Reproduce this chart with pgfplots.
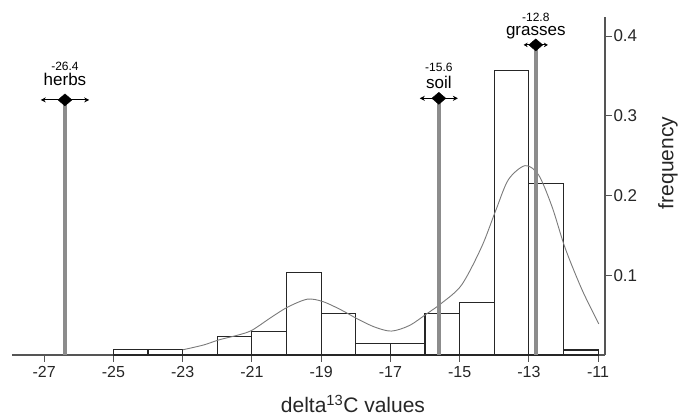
\documentclass[border=0pt]{standalone}
\usepackage{fontspec}
\setmainfont{Liberation Sans}
\usepackage{pgfplots}
\pgfplotsset{compat=1.18}
\usetikzlibrary{arrows.meta}
\definecolor{axisgray}{HTML}{555555}
\definecolor{refgray}{HTML}{8C8C8C}
\definecolor{curvegray}{HTML}{7A7A7A}

\pgfplotstableread{
x      f
-25    0.0072
-24    0.0072
-23    0
-22    0.023
-21    0.030
-20    0.104
-19    0.052
-18    0.0147
-17    0.0147
-16    0.052
-15    0.066
-14    0.357
-13    0.215
-12    0.0063
-11    0
}\histdata

\pgfplotstableread{
x       d
-23.0   0.0065
-22.4   0.0125
-21.95  0.019
-21.4   0.025
-21.0   0.031
-20.45  0.047
-19.97  0.060
-19.4   0.070
-18.95  0.067
-18.42  0.0565
-17.94  0.045
-17.45  0.035
-16.97  0.030
-16.45  0.037
-15.94  0.052
-15.52  0.065
-14.94  0.088
-14.36  0.136
-13.95  0.182
-13.59  0.220
-13.11  0.2375
-12.72  0.226
-12.33  0.186
-11.95  0.134
-11.46  0.0815
-10.98  0.039
}\densdata

\begin{document}
\begin{tikzpicture}
\begin{axis}[
  name=ax, scale only axis, width=593pt, height=338pt,
  xmin=-27.93, xmax=-10.8, ymin=0, ymax=0.424,
  axis x line*=bottom, axis y line*=right,
  axis line style={axisgray, line width=1.3pt, -},
  xtick={-27,-25,-23,-21,-19,-17,-15,-13,-11},
  xticklabels={-27,-25,-23,-21,-19,-17,-15,-13,-11},
  ytick={0.1,0.2,0.3,0.4}, yticklabels={0.1,0.2,0.3,0.4},
  tick align=outside, major tick length=7pt,
  tick style={axisgray, line width=1.1pt},
  xticklabel style={font=\fontsize{16}{16}\selectfont, text=black!85, yshift=-1pt},
  yticklabel style={font=\fontsize{17}{17}\selectfont, text=black!85, xshift=-2pt},
  clip=false,
]
  % histogram
  \addplot[ybar interval, draw=black!85, line width=1.1pt, fill=none] table[x=x, y=f] {\histdata};
  % density curve
  \addplot[curvegray, line width=0.9pt, smooth, tension=0.5] table[x=x, y=d] {\densdata};

  % reference lines
  \addplot[refgray, line width=4.5pt] coordinates {(-26.4,0) (-26.4,0.32)};
  \addplot[refgray, line width=4.5pt] coordinates {(-15.6,0) (-15.6,0.322)};
  \addplot[refgray, line width=4.5pt] coordinates {(-12.8,0) (-12.8,0.389)};

  % ranges
  \addplot[black, line width=1pt, {Stealth[length=5pt,width=5pt]}-{Stealth[length=5pt,width=5pt]}] coordinates {(-27.1,0.32) (-25.7,0.32)};
  \addplot[black, line width=1pt, {Stealth[length=5pt,width=5pt]}-{Stealth[length=5pt,width=5pt]}] coordinates {(-16.15,0.322) (-15.05,0.322)};
  \addplot[black, line width=1pt, {Stealth[length=4pt,width=4.5pt]}-{Stealth[length=4pt,width=4.5pt]}] coordinates {(-13.15,0.389) (-12.45,0.389)};

  \addplot[only marks, mark=diamond*, mark size=6pt, mark options={xscale=1.55, fill=black, draw=black}]
    coordinates {(-26.4,0.32) (-15.6,0.322) (-12.8,0.389)};

  \node[font=\fontsize{17}{17}\selectfont] at ([yshift=20pt]axis cs:-26.4,0.32) {herbs};
  \node[font=\fontsize{12}{12}\selectfont] at ([yshift=34pt]axis cs:-26.4,0.32) {-26.4};
  \node[font=\fontsize{17}{17}\selectfont] at ([yshift=16pt]axis cs:-15.6,0.322) {soil};
  \node[font=\fontsize{12}{12}\selectfont] at ([yshift=31pt]axis cs:-15.6,0.322) {-15.6};
  \node[font=\fontsize{17}{17}\selectfont] at ([yshift=12pt]axis cs:-12.8,0.389) {grasses};
  \node[font=\fontsize{12}{12}\selectfont] at ([yshift=28pt]axis cs:-12.8,0.389) {-12.8};

  \node[font=\fontsize{21}{21}\selectfont, text=black!85] at ([yshift=-49pt]rel axis cs:0.575,0)
    {delta\textsuperscript{13}C values};
  \node[font=\fontsize{21}{21}\selectfont, text=black!85, rotate=90] at ([xshift=63pt]rel axis cs:1,0.568)
    {frequency};
\end{axis}
\pgfresetboundingbox
\path[use as bounding box] ([shift={(-12pt,-65pt)}]ax.south west) rectangle ([shift={(78pt,17pt)}]ax.north east);
\end{tikzpicture}
\end{document}
